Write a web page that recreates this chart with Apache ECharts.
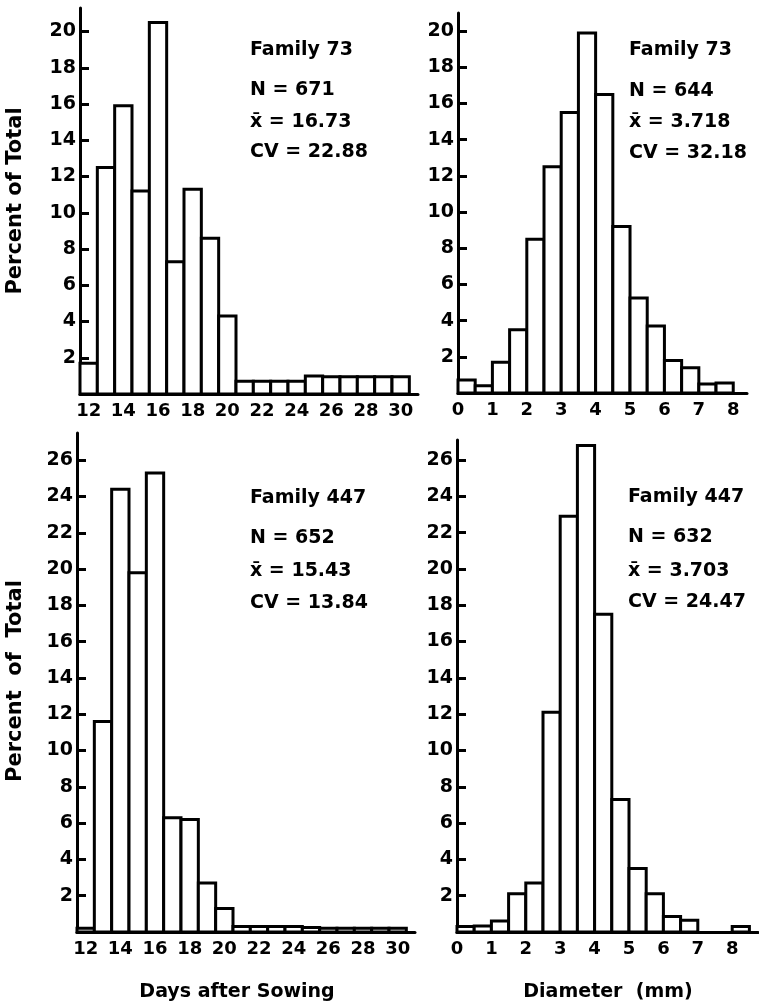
<!DOCTYPE html>
<html>
<head>
<meta charset="utf-8">
<script src="https://cdn.jsdelivr.net/npm/echarts@6/dist/echarts.min.js"></script>
<style>
  html, body { margin: 0; padding: 0; background: #fff; }
  #main { width: 759px; height: 1004px; }
</style>
</head>
<body>
<div id="main"></div>
<script>
// days after sowing (bin centres) and diameter bins (left edges, 0.5 mm wide)
var days = [12, 13, 14, 15, 16, 17, 18, 19, 20, 21, 22, 23, 24, 25, 26, 27, 28, 29, 30];
var family73Days = [1.7, 12.5, 15.9, 11.2, 20.5, 7.3, 11.3, 8.6, 4.3, 0.7, 0.7, 0.7, 0.7, 1.0, 0.95, 0.95, 0.95, 0.95, 0.95];
var family447Days = [0.2, 11.6, 24.4, 19.8, 25.3, 6.3, 6.2, 2.7, 1.3, 0.3, 0.3, 0.3, 0.3, 0.25, 0.2, 0.2, 0.2, 0.2, 0.2];

var diameterBins = [0, 0.5, 1, 1.5, 2, 2.5, 3, 3.5, 4, 4.5, 5, 5.5, 6, 6.5, 7, 7.5, 8];
var family73Diam = [0.72, 0.4, 1.7, 3.5, 8.5, 12.5, 15.5, 19.9, 16.5, 9.2, 5.25, 3.7, 1.8, 1.4, 0.5, 0.55, 0];
var family447Diam = [0.3, 0.33, 0.6, 2.1, 2.7, 12.1, 22.9, 26.8, 17.5, 7.3, 3.5, 2.1, 0.85, 0.65, 0, 0, 0.3];

var dayTicks = [12, 14, 16, 18, 20, 22, 24, 26, 28, 30];
var diamTicks = [0, 1, 2, 3, 4, 5, 6, 7, 8];
var pctTicksTop = [2, 4, 6, 8, 10, 12, 14, 16, 18, 20];
var pctTicksBottom = [2, 4, 6, 8, 10, 12, 14, 16, 18, 20, 22, 24, 26];

var FONT = 'DejaVu Sans';

var chartDom = document.getElementById('main');
var myChart = echarts.init(chartDom, null, { renderer: 'canvas' });

function dayData(vals) {
  var out = [];
  days.forEach(function (d, i) {
    if (vals[i] > 0) out.push([d - 0.5, d + 0.5, vals[i]]);
  });
  return out;
}
function diamData(vals) {
  var out = [];
  diameterBins.forEach(function (b, i) {
    if (vals[i] > 0) out.push([b, b + 0.5, vals[i]]);
  });
  return out;
}

function histRect(params, api) {
  var p0 = api.coord([api.value(0), 0]);
  var p1 = api.coord([api.value(1), api.value(2)]);
  return {
    type: 'rect',
    shape: { x: p0[0], y: p1[1], width: p1[0] - p0[0], height: p0[1] - p1[1] },
    style: { fill: '#fff', stroke: '#000', lineWidth: 3 }
  };
}

function xAxisOf(idx, min, max, ticks) {
  return {
    type: 'value', gridIndex: idx, min: min, max: max,
    axisLine: { lineStyle: { color: '#000', width: 3 } },
    axisTick: { show: false },
    splitLine: { show: false },
    axisLabel: {
      customValues: ticks, color: '#000', fontFamily: FONT,
      fontWeight: 'bold', fontSize: 18, margin: 8
    }
  };
}
function yAxisOf(idx, max, ticks) {
  return {
    type: 'value', gridIndex: idx, min: 0, max: max,
    axisLine: { show: true, lineStyle: { color: '#000', width: 3 } },
    axisTick: { show: true, inside: true, length: 9, customValues: ticks, lineStyle: { color: '#000', width: 3 } },
    splitLine: { show: false },
    axisLabel: {
      customValues: ticks, color: '#000', fontFamily: FONT,
      fontWeight: 'bold', fontSize: 19, margin: 4
    }
  };
}

function txt(x, y, s, opts) {
  opts = opts || {};
  return {
    type: 'text', x: x, y: y, rotation: opts.rotation || 0,
    style: {
      text: s, fill: '#000', font: 'bold ' + (opts.size || 19) + 'px "' + FONT + '"',
      textAlign: opts.align || 'left', textVerticalAlign: opts.valign || 'top'
    }
  };
}

var option = {
  backgroundColor: '#fff',
  animation: false,
  grid: [
    { left: 80, top: 8, width: 338, height: 386 },
    { left: 458, top: 13, width: 289, height: 380 },
    { left: 77, top: 433, width: 338, height: 499 },
    { left: 457, top: 440, width: 301, height: 492 }
  ],
  xAxis: [
    xAxisOf(0, 11.5, 31, dayTicks),
    xAxisOf(1, 0, 8.4, diamTicks),
    xAxisOf(2, 11.5, 31, dayTicks),
    xAxisOf(3, 0, 8.75, diamTicks)
  ],
  yAxis: [
    yAxisOf(0, 21.3, pctTicksTop),
    yAxisOf(1, 21.0, pctTicksTop),
    yAxisOf(2, 27.5, pctTicksBottom),
    yAxisOf(3, 27.1, pctTicksBottom)
  ],
  series: [
    { type: 'custom', xAxisIndex: 0, yAxisIndex: 0, renderItem: histRect, encode: { x: [0, 1], y: 2 }, data: dayData(family73Days), clip: false },
    { type: 'custom', xAxisIndex: 1, yAxisIndex: 1, renderItem: histRect, encode: { x: [0, 1], y: 2 }, data: diamData(family73Diam), clip: false },
    { type: 'custom', xAxisIndex: 2, yAxisIndex: 2, renderItem: histRect, encode: { x: [0, 1], y: 2 }, data: dayData(family447Days), clip: false },
    { type: 'custom', xAxisIndex: 3, yAxisIndex: 3, renderItem: histRect, encode: { x: [0, 1], y: 2 }, data: diamData(family447Diam), clip: false }
  ],
  graphic: [
    // top left
    txt(250, 41, 'Family 73'),
    txt(250, 81, 'N = 671'),
    txt(250, 113, 'x\u0304 = 16.73'),
    txt(250, 143, 'CV = 22.88'),
    // top right
    txt(629, 41, 'Family 73'),
    txt(629, 82, 'N = 644'),
    txt(629, 113, 'x\u0304 = 3.718'),
    txt(629, 144, 'CV = 32.18'),
    // bottom left
    txt(250, 489, 'Family 447'),
    txt(250, 529, 'N = 652'),
    txt(250, 562, 'x\u0304 = 15.43'),
    txt(250, 594, 'CV = 13.84'),
    // bottom right
    txt(628, 488, 'Family 447'),
    txt(628, 528, 'N = 632'),
    txt(628, 562, 'x\u0304 = 3.703'),
    txt(628, 593, 'CV = 24.47'),
    // axis titles
    txt(16, 201, 'Percent of Total', { rotation: Math.PI / 2, align: 'center', valign: 'middle', size: 21 }),
    txt(16, 681, 'Percent  of  Total', { rotation: Math.PI / 2, align: 'center', valign: 'middle', size: 21 }),
    txt(237, 992, 'Days after Sowing', { align: 'center', valign: 'middle', size: 19 }),
    txt(608, 992, 'Diameter  (mm)', { align: 'center', valign: 'middle', size: 19 })
  ]
};

option && myChart.setOption(option);
</script>
</body>
</html>
